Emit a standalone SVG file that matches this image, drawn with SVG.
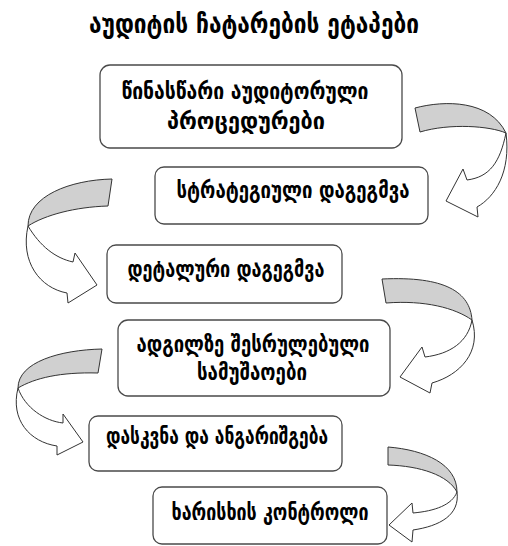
<svg xmlns="http://www.w3.org/2000/svg" width="508" height="546" viewBox="0 0 508 546">
  <style>
    .box { fill: #ffffff; stroke: #4a4a4a; stroke-width: 1.3; }
    .lbl { font-family: "DejaVu Sans", "Noto Sans", sans-serif; font-size: 23px; font-weight: bold; fill: #000; text-anchor: middle; }
    .title { font-family: "DejaVu Sans", "Noto Sans", sans-serif; font-size: 26px; font-weight: bold; fill: #000; text-anchor: middle; }
    .band { fill: #d0d0d0; stroke: #333; stroke-width: 1; stroke-linejoin: round; }
    .body { fill: #ffffff; stroke: #333; stroke-width: 1; stroke-linejoin: miter; }
  </style>
  <rect width="508" height="546" fill="#ffffff"/>

  <text class="title" x="254" y="33" textLength="330" lengthAdjust="spacingAndGlyphs">აუდიტის ჩატარების ეტაპები</text>

  <g id="connectors">
    <g id="arrow-1-2">
      <path class="band" d="M415,108 C445,100 490,100 506,133 C490,126 450,123 420,132 Z"/>
      <path class="body" d="M506,133 C500,162 490,177 467,180 L463,169 L446,201 L478,217 L477,207 C495,197 511,172 506,133 Z"/>
    </g>
    <g id="arrow-2-3">
      <path class="band" d="M112,179 C70,180 28,196 28,226 C45,215 75,207 108,206 Z"/>
      <path class="body" d="M28,226 C40,246 55,258 73,262 L75,253 L97,285 L68,303 L67,293 C40,288 20,262 28,226 Z"/>
    </g>
    <g id="arrow-3-4">
      <path class="band" d="M382,279 C445,276 470,292 472,320 C455,308 425,300 386,303 Z"/>
      <path class="body" d="M472,320 C468,342 450,354 425,357 L422,347 L400,377 L430,393 L432,383 C460,375 482,352 472,320 Z"/>
    </g>
    <g id="arrow-4-5">
      <path class="band" d="M102,349 C60,350 18,362 18,388 C35,378 60,372 98,373 Z"/>
      <path class="body" d="M18,388 C25,408 45,421 63,423 L63,414 L83,442 L57,455 L57,446 C30,442 10,420 18,388 Z"/>
    </g>
    <g id="arrow-5-6">
      <path class="band" d="M388,447 C425,450 457,464 457,492 C448,475 420,466 388,465 Z"/>
      <path class="body" d="M457,492 C452,505 435,511 413,513 L412,503 L389,525 L412,542 L413,530 C440,526 460,515 457,492 Z"/>
    </g>
  </g>

  <g id="step-1">
    <rect class="box" x="100" y="65" width="302" height="83" rx="10"/>
    <text class="lbl" x="245" y="99" textLength="247" lengthAdjust="spacingAndGlyphs">წინასწარი აუდიტორული</text>
    <text class="lbl" x="246" y="129" textLength="158" lengthAdjust="spacingAndGlyphs">პროცედურები</text>
  </g>
  <g id="step-2">
    <rect class="box" x="155" y="167" width="273" height="57" rx="9"/>
    <text class="lbl" x="293" y="198" textLength="233" lengthAdjust="spacingAndGlyphs">სტრატეგიული დაგეგმვა</text>
  </g>
  <g id="step-3">
    <rect class="box" x="107" y="245" width="235" height="58" rx="9"/>
    <text class="lbl" x="226" y="277" textLength="197" lengthAdjust="spacingAndGlyphs">დეტალური დაგეგმვა</text>
  </g>
  <g id="step-4">
    <rect class="box" x="118" y="320" width="272" height="76" rx="10"/>
    <text class="lbl" x="253" y="352" textLength="233" lengthAdjust="spacingAndGlyphs">ადგილზე შესრულებული</text>
    <text class="lbl" x="252" y="380" textLength="110" lengthAdjust="spacingAndGlyphs">სამუშაოები</text>
  </g>
  <g id="step-5">
    <rect class="box" x="89" y="416" width="253" height="55" rx="9"/>
    <text class="lbl" x="217" y="444" textLength="222" lengthAdjust="spacingAndGlyphs">დასკვნა და ანგარიშგება</text>
  </g>
  <g id="step-6">
    <rect class="box" x="153" y="487" width="234" height="57" rx="9"/>
    <text class="lbl" x="270" y="520" textLength="197" lengthAdjust="spacingAndGlyphs">ხარისხის კონტროლი</text>
  </g>
</svg>
